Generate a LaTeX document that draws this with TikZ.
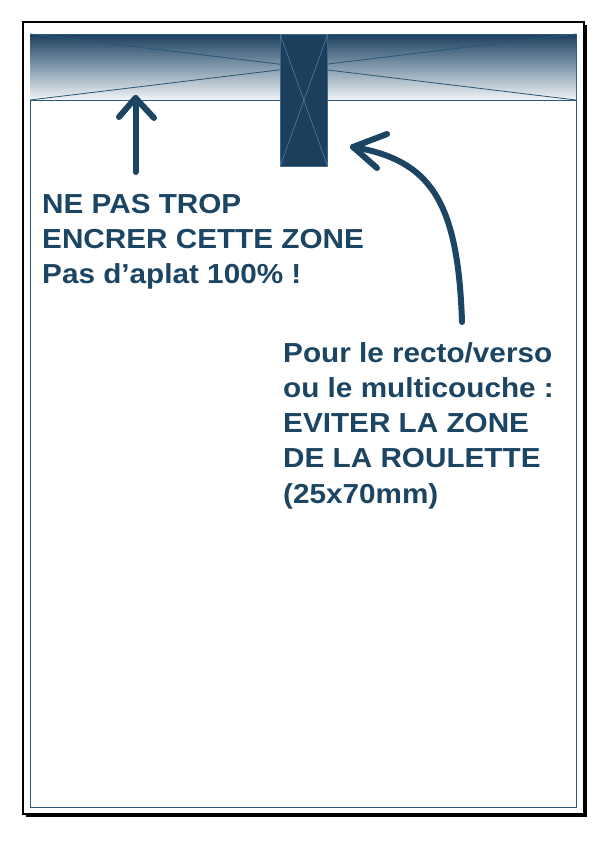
\documentclass[tikz,border=0pt]{standalone}
\usepackage{fontspec}
\setmainfont{Liberation Sans}
\usetikzlibrary{calc}
\definecolor{navy}{HTML}{1C4463}
\definecolor{framebl}{HTML}{2F5876}
\definecolor{diagbl}{HTML}{2A5573}
\definecolor{rectfill}{HTML}{1C3F5E}
\definecolor{rectedge}{HTML}{3D6888}
\definecolor{rectdiag}{HTML}{5A86A6}
\tikzset{
  txt/.style={anchor=base west, inner sep=0pt, text=navy, font=\fontsize{27.5}{35}\selectfont\bfseries},
  bigarrow/.style={draw=navy, line width=6pt, line cap=round, line join=round},
}
\newcommand{\wide}[1]{\scalebox{1.08}[1]{#1}}
\begin{document}
\begin{tikzpicture}[x=1pt,y=-1pt]
\useasboundingbox (0,0) rectangle (608,841);
\fill[white] (0,0) rectangle (608,841);
% page with shadow
\fill[black] (26,25) rectangle (587,817);
\draw[black, line width=1.6pt, fill=white] (23,22) rectangle (584,814);
% inner frame
\draw[framebl, line width=1pt] (30,34) rectangle (576,807);
% gradient band
\shade[top color=rectfill, bottom color=white!94!framebl, middle color=framebl!60!white] (30,34) rectangle (576,100);
\coordinate (bTL) at (30,34);
\coordinate (bTR) at (576,34);
\coordinate (bBL) at (30,100);
\coordinate (bBR) at (576,100);
\draw[diagbl, line width=0.8pt] (bTL) -- (bBR);
\draw[diagbl, line width=0.8pt] (bBL) -- (bTR);
\draw[framebl, line width=1pt] (bBL) -- (bBR);
\draw[framebl, line width=1pt] (bTL) -- (bTR);
% roulette zone
\node[draw=rectedge, fill=rectfill, line width=0.8pt, minimum width=47pt, minimum height=132pt, inner sep=0pt, anchor=north west] (roul) at (280,34) {};
\draw[rectdiag, line width=0.5pt] (roul.north west) -- (roul.south east);
\draw[rectdiag, line width=0.5pt] (roul.south west) -- (roul.north east);
% text block 1
\node[txt] (t1) at (42,213) {\wide{NE PAS TROP}};
\node[txt] (t2) at (42,248) {\wide{ENCRER CETTE ZONE}};
\node[txt] (t3) at (42,283) {\wide{Pas d’aplat 100\% !}};
% text block 2
\node[txt] (u1) at (283,362) {\wide{Pour le recto/verso}};
\node[txt] (u2) at (283,397) {\wide{ou le multicouche :}};
\node[txt] (u3) at (283,432) {\wide{EVITER LA ZONE}};
\node[txt] (u4) at (283,467) {\wide{DE LA ROULETTE}};
\node[txt] (u5) at (283,503) {\wide{(25x70mm)}};
% arrow 1
\coordinate (a1s) at (135.5,172);
\coordinate (a1t) at (135.5,98);
\coordinate (a1l) at (119,117);
\coordinate (a1r) at (154,118);
\draw[bigarrow] (a1s) -- (a1t);
\draw[bigarrow] (a1l) -- (a1t) -- (a1r);
% arrow 2
\coordinate (a2s) at (462,322);
\coordinate (a2t) at (353,147);
\coordinate (a2u) at (387,134);
\coordinate (a2d) at (377,168);
\draw[bigarrow] (a2s) .. controls (458,200) and (430,160) .. (a2t);
\draw[bigarrow] (a2u) -- (a2t) -- (a2d);
\end{tikzpicture}
\end{document}
